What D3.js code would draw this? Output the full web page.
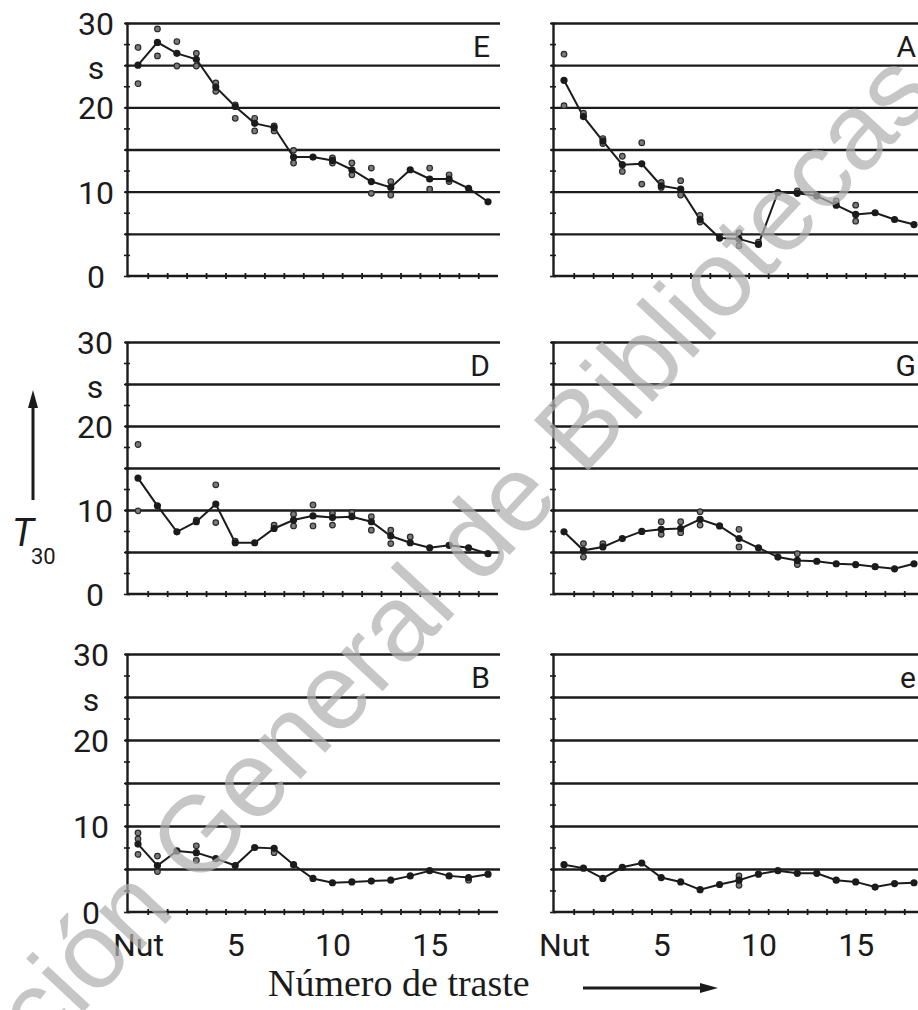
<!DOCTYPE html>
<html>
<head>
<meta charset="utf-8">
<script src="https://cdn.jsdelivr.net/npm/d3@7"></script>
<style>
  html, body { margin: 0; padding: 0; background: #ffffff; }
  svg { display: block; }
</style>
</head>
<body>
<svg id="chart" width="918" height="1010"></svg>
<script>
// ---------------- data ----------------
const frets = [0,1,2,3,4,5,6,7,8,9,10,11,12,13,14,15,16,17,18];
const xTickValues = [0, 5, 10, 15];
const xTickLabels = ["Nut", "5", "10", "15"];
const yTickValues = [30, 25, 20, 10, 0];
const yTickLabels = ["30", "s", "20", "10", "0"];
const gridValues = [5, 10, 15, 20, 25, 30];
const panelNames = ["E", "A", "D", "G", "B", "e"];

const meanE = [25.0,27.7,26.4,25.7,22.4,20.1,18.1,17.6,14.1,14.1,13.7,12.6,11.2,10.5,12.6,11.5,11.5,10.4,8.8];
const indivE = [[0,27.1],[0,22.8],[1,29.3],[1,26.1],[2,27.8],[2,24.9],[3,26.4],[3,24.9],[4,22.9],[4,21.9],
                [5,20.3],[5,18.7],[6,18.7],[6,17.2],[7,17.8],[7,17.2],[8,14.9],[8,13.4],[10,14.0],[10,13.4],
                [11,13.4],[11,12.0],[12,12.8],[12,9.8],[13,11.2],[13,9.6],[15,12.8],[15,10.3],[16,12.0],[16,11.2]];

const meanA = [23.2,18.9,16.0,13.2,13.3,10.7,10.3,6.7,4.5,4.4,3.75,9.9,9.8,9.5,8.4,7.3,7.5,6.7,6.1];
const indivA = [[0,26.3],[0,20.2],[1,19.3],[2,16.3],[2,15.7],[3,14.2],[3,12.4],[4,15.8],[4,10.9],[5,11.1],
                [5,10.5],[6,11.3],[6,9.6],[7,7.2],[7,6.4],[9,5.1],[9,3.6],[10,4.0],[12,10.1],[14,8.9],
                [15,8.4],[15,6.5]];

const meanD = [13.8,10.5,7.4,8.6,10.7,6.1,6.1,7.8,8.8,9.3,9.1,9.2,8.6,6.9,6.1,5.5,5.8,5.5,4.8];
const indivD = [[0,17.8],[0,9.9],[3,8.8],[4,13.0],[4,8.5],[5,6.3],[7,8.2],[8,9.5],[8,8.1],[9,10.6],
                [9,8.1],[10,9.6],[10,8.2],[11,9.7],[12,9.2],[12,7.6],[13,7.6],[13,6.0],[14,6.8]];

const meanG = [7.4,5.2,5.6,6.6,7.45,7.7,7.8,8.9,8.1,6.6,5.5,4.4,4.0,3.9,3.6,3.5,3.25,3.0,3.6];
const indivG = [[1,6.0],[1,4.4],[2,6.0],[5,8.6],[5,7.1],[6,8.6],[6,7.3],[7,9.8],[7,8.2],[9,7.7],
                [9,5.6],[12,4.8],[12,3.5]];

const meanB = [7.9,5.4,7.1,6.9,6.2,5.4,7.5,7.4,5.5,3.9,3.4,3.5,3.6,3.7,4.2,4.8,4.2,4.0,4.4];
const indivB = [[0,9.2],[0,8.5],[0,6.7],[1,6.5],[1,4.7],[3,7.7],[3,6.0],[7,6.9],[17,3.7]];

const meanLowE = [5.5,5.1,3.9,5.2,5.7,4.0,3.5,2.6,3.2,3.7,4.4,4.8,4.5,4.5,3.7,3.5,2.9,3.3,3.4];
const indivLowE = [[9,4.2],[9,3.1]];

const yAxisTitle = "T";
const yAxisSub = "30";
const xAxisTitle = "Número de traste";
const watermark = "ción General de Bibliotecas";

// ---------------- layout ----------------
const colLeft = [127, 553];
const rowTop = [23, 342, 654];
const rowBottom = [276, 594, 912];
const plotW = 373;
const labelCenter = [96, 95, 91];
const ink = "#1b1b1b";
const tickFont = "Roboto, 'DejaVu Sans', sans-serif";

const panels = [
  {name: panelNames[0], means: meanE, indiv: indivE, col: 0, row: 0},
  {name: panelNames[1], means: meanA, indiv: indivA, col: 1, row: 0},
  {name: panelNames[2], means: meanD, indiv: indivD, col: 0, row: 1},
  {name: panelNames[3], means: meanG, indiv: indivG, col: 1, row: 1},
  {name: panelNames[4], means: meanB, indiv: indivB, col: 0, row: 2},
  {name: panelNames[5], means: meanLowE, indiv: indivLowE, col: 1, row: 2}
];

const svg = d3.select("#chart");
svg.append("rect").attr("width", 918).attr("height", 1010).attr("fill", "#fff");

panels.forEach(p => {
  const g = svg.append("g").attr("transform", `translate(${colLeft[p.col]},0)`);
  const y = d3.scaleLinear().domain([0, 30]).range([rowBottom[p.row], rowTop[p.row]]);
  const x = d3.scaleLinear().domain([0, 18]).range([11, 361]);

  // gridlines
  const grid = g.append("g").attr("transform", "translate(-2,0)")
    .call(d3.axisRight(y).tickValues(gridValues).tickSize(plotW + 2).tickFormat(""));
  grid.select(".domain").remove();
  grid.selectAll("line").attr("stroke", ink).attr("stroke-width", 2.4);

  // y axis line with minor ticks
  const yMinor = d3.range(0, 30.01, 2.5);
  const ya = g.append("g").call(d3.axisLeft(y).tickValues(yMinor).tickSize(3).tickSizeOuter(0).tickFormat(""));
  ya.select(".domain").attr("stroke", ink).attr("stroke-width", 2.4);
  ya.selectAll(".tick line").attr("stroke", ink).attr("stroke-width", 1.6).attr("x2", 3).attr("x1", -3);

  // x axis line with half-fret ticks
  const halfTicks = frets.slice(0, 18).map(f => f + 0.5);
  const xa = g.append("g").attr("transform", `translate(0,${y(0)})`)
    .call(d3.axisBottom(x).tickValues(halfTicks).tickSize(3).tickSizeOuter(0).tickFormat(""));
  xa.select(".domain").attr("d", `M0,0H${plotW - 2}`).attr("stroke", ink).attr("stroke-width", 2.4);
  xa.selectAll(".tick line").attr("stroke", ink).attr("stroke-width", 1.8).attr("y1", -3).attr("y2", 3);

  // y tick labels (left column only)
  if (p.col === 0) {
    const yl = g.append("g").call(d3.axisLeft(y).tickValues(yTickValues)
      .tickFormat(d => yTickLabels[yTickValues.indexOf(d)]).tickSize(0));
    yl.select(".domain").remove();
    yl.selectAll("text")
      .attr("x", labelCenter[p.row] - colLeft[0])
      .attr("dy", d => d === 25 ? "0.36em" : "0.36em")
      .attr("y", d => d === 25 ? 2 : 0)
      .attr("text-anchor", "middle")
      .attr("fill", ink)
      .style("font-family", tickFont)
      .style("font-size", "32px");
  }

  // x tick labels (bottom row only)
  if (p.row === 2) {
    const xl = g.append("g").attr("transform", `translate(0,${y(0)})`)
      .call(d3.axisBottom(x).tickValues(xTickValues)
        .tickFormat(d => xTickLabels[xTickValues.indexOf(d)]).tickSize(0).tickPadding(21));
    xl.select(".domain").remove();
    xl.selectAll("text")
      .attr("fill", ink)
      .style("font-family", tickFont)
      .style("font-size", "32px");
  }

  // mean line
  const line = d3.line().x((d, i) => x(frets[i])).y(d => y(d));
  g.append("path").datum(p.means)
    .attr("d", line).attr("fill", "none").attr("stroke", ink).attr("stroke-width", 2);

  // individual measurements
  g.append("g").selectAll("circle").data(p.indiv).join("circle")
    .attr("cx", d => x(d[0])).attr("cy", d => y(d[1])).attr("r", 2.8)
    .attr("fill", "#7a7a7a").attr("stroke", "#2a2a2a").attr("stroke-width", 1.2);

  // mean points
  g.append("g").selectAll("circle").data(p.means).join("circle")
    .attr("cx", (d, i) => x(frets[i])).attr("cy", d => y(d)).attr("r", 3.6)
    .attr("fill", ink);

  // panel letter
  g.append("text").attr("x", 363).attr("y", rowTop[p.row] + 34)
    .attr("text-anchor", "end").attr("fill", ink)
    .style("font-family", tickFont).style("font-size", "30px")
    .text(p.name);
});

// y axis title with up arrow
svg.append("line").attr("x1", 33).attr("x2", 33).attr("y1", 500).attr("y2", 404)
  .attr("stroke", ink).attr("stroke-width", 3);
svg.append("path").attr("d", "M33,390 L28,408 L38,408 Z").attr("fill", ink);
svg.append("text").attr("x", 12).attr("y", 546).attr("fill", ink)
  .style("font-family", tickFont).style("font-style", "italic").style("font-size", "38px")
  .text(yAxisTitle);
svg.append("text").attr("x", 31).attr("y", 564).attr("fill", ink)
  .style("font-family", tickFont).style("font-size", "22px")
  .text(yAxisSub);

// x axis title with right arrow
svg.append("text").attr("x", 268).attr("y", 996).attr("fill", ink)
  .style("font-family", "'Liberation Serif', 'DejaVu Serif', serif").style("font-size", "38px")
  .text(xAxisTitle);
svg.append("line").attr("x1", 583).attr("x2", 702).attr("y1", 988).attr("y2", 988)
  .attr("stroke", ink).attr("stroke-width", 3);
svg.append("path").attr("d", "M718,988 L700,983 L700,993 Z").attr("fill", ink);

// watermark
svg.append("text")
  .attr("transform", "translate(490,576) rotate(-47)")
  .attr("text-anchor", "middle")
  .attr("fill", "#b0b0b0").attr("fill-opacity", 0.72)
  .style("font-family", "'Liberation Sans', Arial, sans-serif").style("font-size", "108px")
  .text(watermark);
</script>
</body>
</html>
